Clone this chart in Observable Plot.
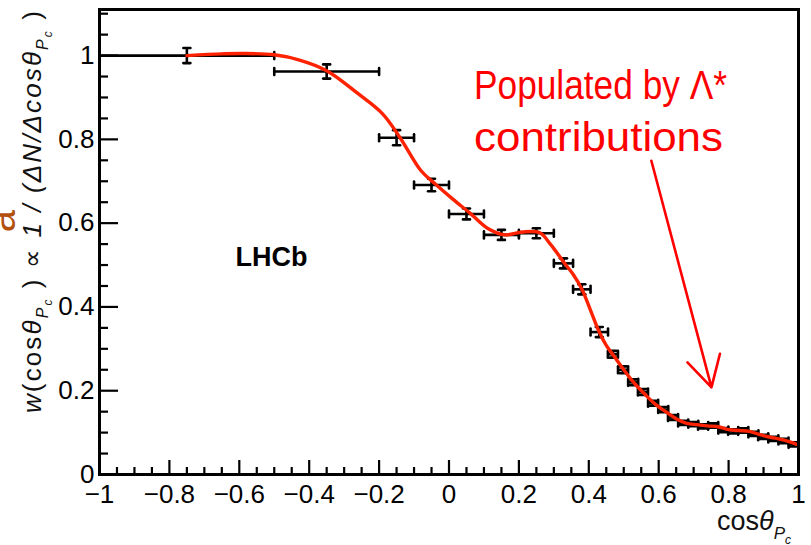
<!DOCTYPE html>
<html><head><meta charset="utf-8">
<script src="https://cdn.jsdelivr.net/npm/d3@7"></script>
<script src="https://cdn.jsdelivr.net/npm/@observablehq/plot@0.6"></script>
<style>
body{margin:0;background:#fff;}
#chart{position:relative;width:811px;height:545px;overflow:hidden;}
</style>
</head><body><div id="chart"></div>
<script>
// ---- data ----
const binCenter = [-0.75, -0.35, -0.15, -0.05, 0.05, 0.15, 0.25, 0.3275, 0.38, 0.43,
  0.469, 0.498, 0.527, 0.555, 0.584, 0.613, 0.641, 0.670, 0.699, 0.727,
  0.756, 0.785, 0.813, 0.842, 0.871, 0.899, 0.928, 0.957, 0.986];
const binHalfWidth = [0.25, 0.15, 0.05, 0.05, 0.05, 0.05, 0.05, 0.0275, 0.025, 0.025,
  0.0144, 0.0144, 0.0144, 0.0144, 0.0144, 0.0144, 0.0144, 0.0144, 0.0144, 0.0144,
  0.0144, 0.0144, 0.0144, 0.0144, 0.0144, 0.0144, 0.0144, 0.0144, 0.0144];
const weight = [1.000, 0.962, 0.804, 0.691, 0.622, 0.572, 0.576, 0.504, 0.442, 0.340,
  0.287, 0.250, 0.220, 0.197, 0.170, 0.155, 0.136, 0.123, 0.120, 0.115,
  0.117, 0.106, 0.103, 0.105, 0.097, 0.090, 0.085, 0.080, 0.072];
const weightErr = [0.018, 0.017, 0.018, 0.015, 0.013, 0.012, 0.012, 0.012, 0.012, 0.012,
  0.008, 0.008, 0.007, 0.007, 0.006, 0.006, 0.006, 0.005, 0.005, 0.005,
  0.005, 0.005, 0.005, 0.005, 0.005, 0.005, 0.005, 0.005, 0.005];

const fitX = [-0.75, -0.65, -0.59, -0.5, -0.43, -0.35, -0.26, -0.19, -0.14, -0.08, -0.04, 0.01,
  0.06, 0.11, 0.16, 0.21, 0.26, 0.29, 0.33, 0.355, 0.38, 0.405, 0.43, 0.45, 0.47, 0.50, 0.53, 0.56, 0.59, 0.62,
  0.65, 0.68, 0.71, 0.74, 0.77, 0.80, 0.83, 0.86, 0.89, 0.92, 0.95, 0.975, 0.995];
const fitY = [1.000, 1.004, 1.005, 1.002, 0.990, 0.964, 0.909, 0.861, 0.804, 0.725, 0.694, 0.658,
  0.624, 0.588, 0.572, 0.579, 0.577, 0.550, 0.505, 0.478, 0.443, 0.392, 0.340, 0.308, 0.285, 0.250, 0.218, 0.192, 0.168, 0.150,
  0.133, 0.122, 0.119, 0.116, 0.114, 0.107, 0.105, 0.103, 0.095, 0.089, 0.084, 0.078, 0.072];

const xMajorTicks = [-1, -0.8, -0.6, -0.4, -0.2, 0, 0.2, 0.4, 0.6, 0.8, 1];
const yMajorTicks = [0, 0.2, 0.4, 0.6, 0.8, 1];
const experimentLabel = "LHCb";
const experimentPos = [-0.508, 0.518];
const noteLines = ["Populated by Λ*", "contributions"];
const arrowFrom = [0.579, 0.749];
const arrowTo = [0.751, 0.208];

// ---- build ----
const points = binCenter.map((x, i) => ({
  x, xlo: x - binHalfWidth[i], xhi: x + binHalfWidth[i],
  y: weight[i], ylo: weight[i] - weightErr[i], yhi: weight[i] + weightErr[i]
}));
const fit = fitX.map((x, i) => ({x, y: fitY[i]}));
const xMinorTicks = d3.range(-1, 1.0001, 0.05).map(v => +v.toFixed(2)).filter(v => !xMajorTicks.includes(v));
const yMinorTicks = d3.range(0, 1.1001, 0.05).map(v => +v.toFixed(2)).filter(v => !yMajorTicks.includes(v));
const fmt = d => d === 0 ? "0" : (d < 0 ? "\u2212" : "") + (+Math.abs(d).toFixed(1));

const capShape = {draw(ctx, l) { ctx.moveTo(0, 0); ctx.lineTo(0, -l); }};
const barW = 2.6;
const font = "'Liberation Sans', Arial, Helvetica, sans-serif";

const chart = Plot.plot({
  width: 811, height: 545,
  marginLeft: 99, marginRight: 13, marginTop: 9, marginBottom: 71,
  style: {fontFamily: font, background: "#fff", color: "#000"},
  x: {domain: [-1, 1]},
  y: {domain: [0, 1.11]},
  marks: [
    Plot.axisX({ticks: xMajorTicks, tickSize: -14, tickFormat: () => "", strokeWidth: 2.2, label: null}),
    Plot.axisX({ticks: xMinorTicks, tickSize: -7, tickFormat: () => "", strokeWidth: 2.2, label: null}),
    Plot.axisY({ticks: yMajorTicks, tickSize: -19, tickFormat: () => "", strokeWidth: 2.2, label: null}),
    Plot.axisY({ticks: yMinorTicks, tickSize: -9, tickFormat: () => "", strokeWidth: 2.2, label: null}),
    Plot.axisX({ticks: xMajorTicks, tickSize: 0, tickPadding: 10, tickFormat: fmt, fontSize: 26, label: null}),
    Plot.axisY({ticks: yMajorTicks, tickSize: 0, tickPadding: 5, tickFormat: fmt, fontSize: 26, label: null}),
    Plot.ruleY(points, {y: "y", x1: "xlo", x2: "xhi", stroke: "#000", strokeWidth: barW}),
    Plot.ruleX(points, {x: "x", y1: "ylo", y2: "yhi", stroke: "#000", strokeWidth: barW}),
    Plot.vector(points, {x: "xlo", y: "y", length: 7, rotate: 0, anchor: "middle", shape: capShape, stroke: "#000", strokeWidth: barW}),
    Plot.vector(points, {x: "xhi", y: "y", length: 7, rotate: 0, anchor: "middle", shape: capShape, stroke: "#000", strokeWidth: barW}),
    Plot.vector(points, {x: "x", y: "ylo", length: 7, rotate: 90, anchor: "middle", shape: capShape, stroke: "#000", strokeWidth: barW}),
    Plot.vector(points, {x: "x", y: "yhi", length: 7, rotate: 90, anchor: "middle", shape: capShape, stroke: "#000", strokeWidth: barW}),
    Plot.line(fit, {x: "x", y: "y", curve: "catmull-rom", stroke: "#ff2200", strokeWidth: 3.4}),
    Plot.text([experimentLabel], {x: () => experimentPos[0], y: () => experimentPos[1], text: d => d, fontSize: 27, fontWeight: "bold", fill: "#000"}),
    Plot.arrow([0], {x1: () => arrowFrom[0], y1: () => arrowFrom[1], x2: () => arrowTo[0], y2: () => arrowTo[1],
      stroke: "#ff0000", strokeWidth: 2.6, headLength: 20, headAngle: 58}),
    Plot.frame({stroke: "#000", strokeWidth: 3})
  ]
});

const svg = d3.select(chart);
const note = svg.append("g").attr("fill", "#ff0000").attr("font-family", font).attr("font-size", 40).attr("text-anchor", "start");
note.append("text").attr("x", 474).attr("y", 99).attr("textLength", 253).attr("lengthAdjust", "spacingAndGlyphs").text(noteLines[0]);
note.append("text").attr("x", 474).attr("y", 151).attr("textLength", 249).attr("lengthAdjust", "spacingAndGlyphs").text(noteLines[1]);

const yt = svg.append("text").attr("transform", "translate(41,413) rotate(-90)").attr("text-anchor", "start")
  .attr("font-family", font).attr("font-size", 26).attr("fill", "#111")
  .attr("textLength", 402).attr("lengthAdjust", "spacing");
yt.append("tspan").attr("font-style", "italic").text("w");
yt.append("tspan").text("(cos");
yt.append("tspan").attr("font-style", "italic").text("θ");
yt.append("tspan").attr("font-style", "italic").attr("font-size", 16).attr("dy", 7).text("P");
yt.append("tspan").attr("font-style", "italic").attr("font-size", 12).attr("dy", 4).text("c");
yt.append("tspan").attr("dy", -11).text(" ) \u221D ");
yt.append("tspan").attr("font-style", "italic").text("1 / (\u0394N/\u0394cos");
yt.append("tspan").attr("font-style", "italic").text("θ");
yt.append("tspan").attr("font-style", "italic").attr("font-size", 16).attr("dy", 7).text("P");
yt.append("tspan").attr("font-style", "italic").attr("font-size", 12).attr("dy", 4).text("c");
yt.append("tspan").attr("dy", -11).text(" )");

svg.append("text").attr("transform", "translate(15,221) rotate(-90)").attr("text-anchor", "middle")
  .attr("font-family", font).attr("font-size", 40).attr("fill", "#b4500e").text("a");

const xt = svg.append("text").attr("x", 717).attr("y", 530).attr("text-anchor", "start")
  .attr("font-family", font).attr("font-size", 27).attr("fill", "#111");
xt.append("tspan").text("cos");
xt.append("tspan").attr("font-style", "italic").text("θ");
xt.append("tspan").attr("font-style", "italic").attr("font-size", 17).attr("dy", 9).text("P");
xt.append("tspan").attr("font-style", "italic").attr("font-size", 12).attr("dy", 5).text("c");

document.getElementById("chart").appendChild(chart);
</script>
</body></html>
